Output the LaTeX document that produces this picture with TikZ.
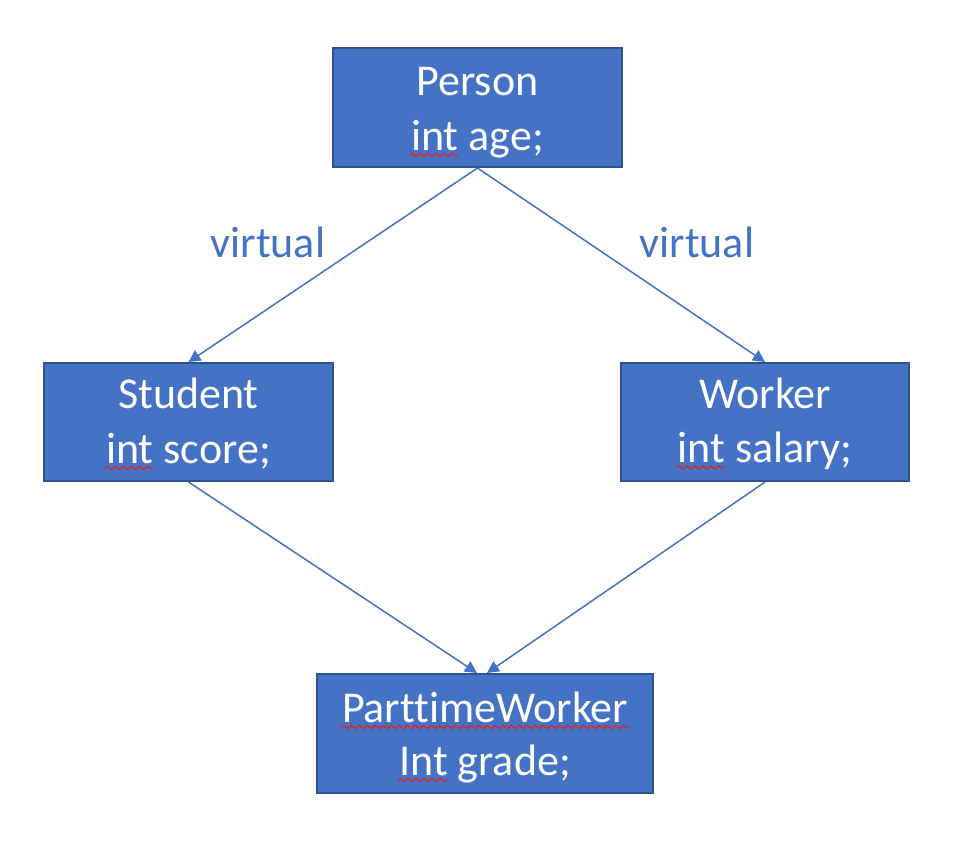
\documentclass[tikz,border=0pt]{standalone}
\usepackage{fontspec}
\setmainfont[Ligatures={NoCommon}]{Carlito}
\usetikzlibrary{arrows.meta,decorations.pathmorphing,calc}
\definecolor{ofblue}{HTML}{4472C4}
\definecolor{ofdark}{HTML}{2F528F}
\definecolor{spellred}{HTML}{E2231A}
\newcommand\boxfont{\fontsize{22}{27}\selectfont}
\newlength\wInt
\newlength\wIntC
\begin{document}
\settowidth\wInt{\boxfont int}%
\settowidth\wIntC{\boxfont Int}%
\begin{tikzpicture}[x=0.5pt,y=-0.5pt,
  cls/.style={rectangle, draw=ofdark, fill=ofblue, line width=1pt, inner sep=0pt},
  txt/.style={inner sep=0pt, anchor=base, text=white, font=\boxfont},
  lab/.style={inner sep=0pt, anchor=base, text=ofblue, font=\boxfont},
  conn/.style={draw=ofblue, line width=0.75pt, -{Triangle[length=6pt,width=6pt]}},
  wave/.style={draw=spellred, line width=0.6pt, decorate,
    decoration={snake, segment length=4pt, amplitude=0.8pt}}]
\useasboundingbox (0,0) rectangle (954,852);
% boxes
\node[cls, minimum width=144.5pt, minimum height=59.5pt] (person) at (477.5,107.5) {};
\node[cls, minimum width=144.5pt, minimum height=59pt] (student) at (188.5,422) {};
\node[cls, minimum width=144pt, minimum height=59pt] (worker) at (765,422) {};
\node[cls, minimum width=168pt, minimum height=59.5pt] (ptw) at (485,733.5) {};
% texts
\node[txt] (personA) at ($(person.center)+(0,-12.5)$) {Person};
\node[txt] (personB) at ($(person.center)+(0,42.5)$) {int age;};
\node[txt] (studentA) at ($(student.center)+(0,-14)$) {Student};
\node[txt] (studentB) at ($(student.center)+(0,41)$) {int score;};
\node[txt] (workerA) at ($(worker.center)+(0,-14)$) {Worker};
\node[txt] (workerB) at ($(worker.center)+(0,40.5)$) {int salary;};
\node[txt] (ptwA) at ($(ptw.center)+(0,-11.5)$) {ParttimeWorker};
\node[txt] (ptwB) at ($(ptw.center)+(0,41.5)$) {Int grade;};
% spelling underlines
\draw[wave] ([xshift=-0.5pt,yshift=-2.5pt]personB.base west) -- ([xshift=\wInt,yshift=-2.5pt]personB.base west);
\draw[wave] ([xshift=-0.5pt,yshift=-2.5pt]studentB.base west) -- ([xshift=\wInt,yshift=-2.5pt]studentB.base west);
\draw[wave] ([xshift=-0.5pt,yshift=-2.5pt]workerB.base west) -- ([xshift=\wInt,yshift=-2.5pt]workerB.base west);
\draw[wave] ([xshift=-0.5pt,yshift=-2.5pt]ptwB.base west) -- ([xshift=\wIntC,yshift=-2.5pt]ptwB.base west);
\draw[wave] ([xshift=-0.5pt,yshift=-2.5pt]ptwA.base west) -- ([xshift=0.5pt,yshift=-2.5pt]ptwA.base east);
% labels
\node[lab] (v1) at (268,257) {virtual};
\node[lab] (v2) at (697,257) {virtual};
% connectors
\draw[conn] (person.south) -- (student.north);
\draw[conn] (person.south) -- (worker.north);
\draw[conn] (student.south) -- ($(ptw.north)+(-8,0)$);
\draw[conn] (worker.south) -- ($(ptw.north)+(2,0)$);
\end{tikzpicture}
\end{document}
